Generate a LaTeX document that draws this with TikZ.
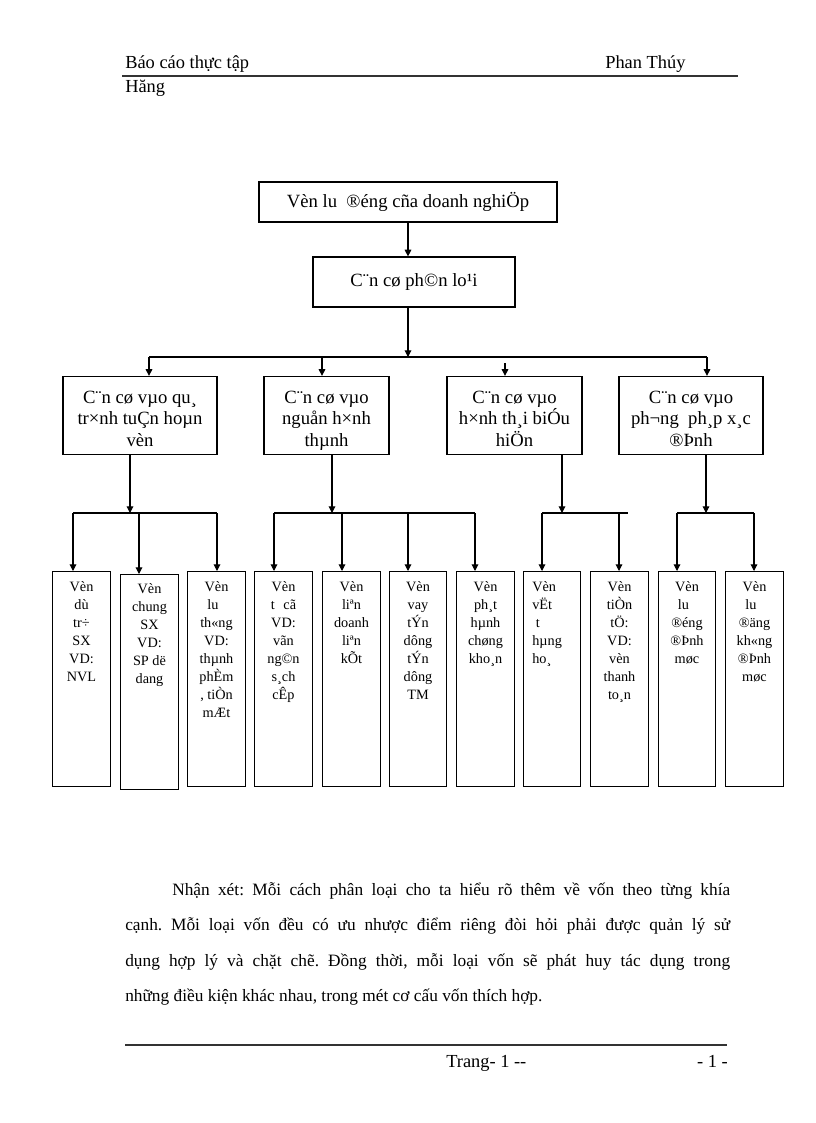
\documentclass[tikz,border=0pt]{standalone}
\usepackage{fontspec}
\setmainfont{Liberation Serif}
\usetikzlibrary{arrows.meta}
\usetikzlibrary{positioning}

\newcommand{\lvlgap}{\rule{0pt}{18pt}}
\newcommand{\lvlend}{\rule[-4pt]{0pt}{4pt}}

\tikzset{
  box/.style={draw, line width=0.9pt, inner sep=2pt},
  top/.style={box, font=\fontsize{14}{16.3}\selectfont},
  lvl/.style={box, align=center, font=\fontsize{14}{16.3}\selectfont, minimum height=57.75pt},
  leaf/.style={box, minimum width=43.1pt, minimum height=161.25pt, anchor=north},
  leaftext/.style={align=center, anchor=north, inner sep=0pt, font=\fontsize{10.7}{13.5}\selectfont},
  arr/.style={line width=0.8pt, -{Triangle[width=5pt,length=5pt]}},
  bar/.style={line width=0.8pt},
  rule/.style={line width=1pt, black!80},
  page/.style={inner sep=0pt, font=\fontsize{13.8}{16}\selectfont}
}

\begin{document}
\begin{tikzpicture}[x=0.75pt, y=-0.75pt]
    \useasboundingbox (0,0) rectangle (816,1123);

    % header
    \node[page, anchor=base west] (hd1) at (125,69) {Báo cáo thực tập};
    \node[page, anchor=base west] (hd2) at (605,69) {Phan Thúy};
    \node[page, anchor=base west] (hd3) at (125,93) {Hăng};
    \draw[rule] (122,76) -- (738,76);

    % top of the tree
    \node[top, minimum width=223.5pt, minimum height=30pt] (von) at (408,202) {Vèn lu\ \ ®éng cña doanh nghiÖp};
    \node[top, minimum width=151.5pt, minimum height=37.5pt] (phan) at (414,282) {C¨n cø ph©n lo¹i};
    \draw[arr] (von.south) -- (von.south |- phan.north);

    % the four ways of sorting
    \node[lvl, minimum width=115.5pt] (cc1) at (140,415.5) {\lvlgap C¨n cø vµo qu¸\\tr×nh tuÇn hoµn\\vèn\lvlend};
    \node[lvl, minimum width=93.75pt] (cc2) at (326.5,415.5) {\lvlgap C¨n cø vµo\\nguån h×nh\\thµnh\lvlend};
    \node[lvl, minimum width=101.25pt] (cc3) at (514.5,415.5) {\lvlgap C¨n cø vµo\\h×nh th¸i biÓu\\hiÖn\lvlend};
    \node[lvl, minimum width=108pt] (cc4) at (691,415.5) {\lvlgap C¨n cø vµo\\ph¬ng\ \ ph¸p x¸c\\®Þnh\lvlend};

    \coordinate (hub) at (408,357);
    \coordinate (j1) at (149,357);
    \coordinate (j2) at (322,357);
    \coordinate (j3) at (505,363);
    \coordinate (j4) at (707,357);
    \draw[arr] (von.south |- phan.south) -- (hub);
    \draw[bar] (j1) -- (j4);
    \draw[arr] (j1) -- (j1 |- cc1.north);
    \draw[arr] (j2) -- (j2 |- cc2.north);
    \draw[arr] (j3) -- (j3 |- cc3.north);
    \draw[arr] (j4) -- (j4 |- cc4.north);

    % the eleven kinds
    \node[leaf] (l1) at (81.5,571) {};
    \node[leaf] (l2) at (149.5,574) {};
    \node[leaf] (l3) at (216.5,571) {};
    \node[leaf] (l4) at (283.5,571) {};
    \node[leaf] (l5) at (351.5,571) {};
    \node[leaf] (l6) at (418,571) {};
    \node[leaf] (l7) at (485.5,571) {};
    \node[leaf] (l8) at (552,571) {};
    \node[leaf] (l9) at (619.5,571) {};
    \node[leaf] (l10) at (687,571) {};
    \node[leaf] (l11) at (754.5,571) {};

    \node[leaftext, below=8pt of l1.north] (t1) {Vèn\\dù\\tr÷\\SX\\VD:\\NVL};
    \node[leaftext, below=7pt of l2.north] (t2) {Vèn\\chung\\SX\\VD:\\SP dë\\dang};
    \node[leaftext, below=8pt of l3.north] (t3) {Vèn\\lu\hphantom{u}\\th«ng\\VD:\\thµnh\\phÈm\\, tiÒn\\mÆt};
    \node[leaftext, below=8pt of l4.north] (t4) {Vèn\\t\hspace{0.6em}cã\\VD:\\vãn\\ng©n\\s¸ch\\cÊp};
    \node[leaftext, below=8pt of l5.north] (t5) {Vèn\\liªn\\doanh\\liªn\\kÕt};
    \node[leaftext, below=8pt of l6.north] (t6) {Vèn\\vay\\tÝn\\dông\\tÝn\\dông\\TM};
    \node[leaftext, below=8pt of l7.north] (t7) {Vèn\\ph¸t\\hµnh\\chøng\\kho¸n};
    \node[leaftext, align=left, anchor=north west, below right=8pt and 7pt of l8.north west] (t8) {Vèn\\vËt\\\ t\\hµng\\ho¸};
    \node[leaftext, below=8pt of l9.north] (t9) {Vèn\\tiÒn\\tÖ:\\VD:\\vèn\\thanh\\to¸n};
    \node[leaftext, below=8pt of l10.north] (t10) {Vèn\\lu\hphantom{u}\\®éng\\®Þnh\\møc};
    \node[leaftext, below=8pt of l11.north] (t11) {Vèn\\lu\hphantom{u}\\®äng\\kh«ng\\®Þnh\\møc};

    % group 1
    \coordinate (g1) at (130,513);
    \coordinate (a1) at (73,513);
    \coordinate (a2) at (139,513);
    \coordinate (a3) at (217,513);
    \draw[arr] (g1 |- cc1.south) -- (g1);
    \draw[bar] (a1) -- (a3);
    \draw[arr] (a1) -- (a1 |- l1.north);
    \draw[arr] (a2) -- (a2 |- l2.north);
    \draw[arr] (a3) -- (a3 |- l3.north);

    % group 2
    \coordinate (g2) at (332,513);
    \coordinate (b1) at (274,513);
    \coordinate (b2) at (342,513);
    \coordinate (b3) at (408,513);
    \coordinate (b4) at (475,513);
    \draw[arr] (g2 |- cc2.south) -- (g2);
    \draw[bar] (b1) -- (b4);
    \draw[arr] (b1) -- (b1 |- l4.north);
    \draw[arr] (b2) -- (b2 |- l5.north);
    \draw[arr] (b3) -- (b3 |- l6.north);
    \draw[arr] (b4) -- (b4 |- l7.north);

    % group 3
    \coordinate (g3) at (562,513);
    \coordinate (c1) at (542,513);
    \coordinate (c2) at (619,513);
    \coordinate (c3) at (628,513);
    \draw[arr] (g3 |- cc3.south) -- (g3);
    \draw[bar] (c1) -- (c3);
    \draw[arr] (c1) -- (c1 |- l8.north);
    \draw[arr] (c2) -- (c2 |- l9.north);

    % group 4
    \coordinate (g4) at (706,513);
    \coordinate (d1) at (677,513);
    \coordinate (d2) at (754,513);
    \draw[arr] (g4 |- cc4.south) -- (g4);
    \draw[bar] (d1) -- (d2);
    \draw[arr] (d1) -- (d1 |- l10.north);
    \draw[arr] (d2) -- (d2 |- l11.north);

    % remark
    \node[inner sep=0pt, anchor=north west, text width=453.75pt, align=justify,
          font=\fontsize{13}{26.6}\selectfont\frenchspacing] (nx) at (125,882)
        {\hspace*{35.25pt}Nhận xét: Mỗi cách phân loại cho ta hiểu rõ thêm về vốn theo từng khía\linebreak
         cạnh. Mỗi loại vốn đều có ưu nhược điểm riêng đòi hỏi phải được quản lý sử\linebreak
         dụng hợp lý và chặt chẽ. Đồng thời, mỗi loại vốn sẽ phát huy tác dụng trong\linebreak
         những điều kiện khác nhau, trong mét cơ cấu vốn thích hợp.};

    % footer
    \draw[rule] (125,1045) -- (727,1045);
    \node[page, anchor=base west] (ft1) at (446,1067) {Trang- 1 -{}-};
    \node[page, anchor=base east] (ft2) at (728,1067) {- 1 -};
\end{tikzpicture}
\end{document}
